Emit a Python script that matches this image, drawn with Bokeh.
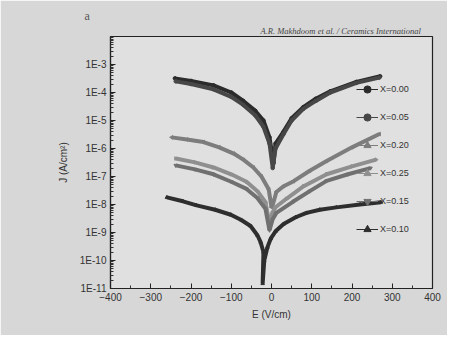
import math
from bokeh.plotting import figure
from bokeh.models import Range1d, FixedTicker, CustomJSTickFormatter, Legend, LegendItem, Title
from bokeh.embed import file_html
from bokeh.resources import INLINE

# ---- data (E in V/cm, J in A/cm^2) ----
E_000 = [-240, -200, -144, -100, -70, -40, -20, -5, 5, 10, 30, 50, 79, 110, 146, 211, 270]
J_000 = [3.2e-4, 2.6e-4, 1.8e-4, 1.0e-4, 5e-5, 2.2e-5, 1e-5, 2.5e-6, 3e-7, 1.5e-6, 4e-6, 1.2e-5, 3e-5, 6e-5, 1.1e-4, 2.4e-4, 3.8e-4]

E_005 = [-238, -200, -144, -100, -70, -40, -20, -5, 3, 10, 30, 50, 79, 110, 146, 211, 268]
J_005 = [2.5e-4, 2e-4, 1.3e-4, 7e-5, 3.6e-5, 1.5e-5, 6e-6, 1.5e-6, 2e-7, 1e-6, 3.3e-6, 1e-5, 2.6e-5, 5e-5, 1e-4, 2.2e-4, 3.4e-4]

E_020 = [-248, -210, -169, -130, -94, -70, -45, -25, -7, 0, 5, 12, 30, 55, 95, 137, 200, 268]
J_020 = [2.5e-6, 2.1e-6, 1.7e-6, 1.1e-6, 6.6e-7, 4e-7, 2.1e-7, 1e-7, 3.5e-8, 8e-9, 1.2e-8, 2.8e-8, 4.5e-8, 6.8e-8, 1.6e-7, 3.6e-7, 1.1e-6, 3.3e-6]

E_025 = [-238, -190, -144, -100, -62, -35, -15, -5, 2, 10, 37, 80, 137, 200, 260]
J_025 = [4.4e-7, 3.2e-7, 2.1e-7, 1.2e-7, 6.5e-8, 3e-8, 1.2e-8, 2e-9, 5e-9, 8e-9, 1.6e-8, 4.5e-8, 1.2e-7, 2.3e-7, 4e-7]

E_015 = [-238, -190, -144, -100, -62, -35, -15, -5, 3, 12, 55, 95, 137, 190, 246]
J_015 = [2.5e-7, 1.8e-7, 1.2e-7, 6.5e-8, 3.6e-8, 1.7e-8, 7e-9, 1.2e-9, 3e-9, 5e-9, 1.3e-8, 3e-8, 7e-8, 1.2e-7, 2e-7]

E_010 = [-260, -220, -186, -140, -101, -75, -52, -35, -27, -20, -22, -18, -10, -2, 10, 30, 60, 87, 120, 161, 220, 272]
J_010 = [1.8e-8, 1.3e-8, 9.3e-9, 6.5e-9, 4.3e-9, 2.8e-9, 1.7e-9, 8e-10, 4.5e-10, 2e-10, 1.5e-11, 1e-10, 3e-10, 6e-10, 1.1e-9, 2e-9, 3.5e-9, 5e-9, 6.5e-9, 7.9e-9, 1e-8, 1.2e-8]

x_ticks = [-400, -300, -200, -100, 0, 100, 200, 300, 400]
x_minor = [-350, -250, -150, -50, 50, 150, 250, 350]
y_ticks = [1e-11, 1e-10, 1e-9, 1e-8, 1e-7, 1e-6, 1e-5, 1e-4, 1e-3]

series = [
    ("X=0.00", E_000, J_000, "#2b2b2b", "circle", 0.0),
    ("X=0.05", E_005, J_005, "#474747", "circle", 0.0),
    ("X=0.20", E_020, J_020, "#7d7d7d", "triangle", math.pi / 2),
    ("X=0.25", E_025, J_025, "#8f8f8f", "triangle", -math.pi / 2),
    ("X=0.15", E_015, J_015, "#707070", "inverted_triangle", 0.0),
    ("X=0.10", E_010, J_010, "#2e2e2e", "triangle", 0.0),
]

p = figure(width=447, height=335, x_range=Range1d(-400, 400), y_range=Range1d(1e-11, 1e-2),
           y_axis_type="log", output_backend="svg", toolbar_location=None,
           min_border_left=110, min_border_right=15, min_border_top=36, min_border_bottom=47)
p.background_fill_color = "#e0e0e0"
p.border_fill_color = "#d7d7d7"
p.outline_line_color = "#222222"
p.outline_line_width = 1.2
p.grid.visible = False

# panel letter (outer) and the journal page header line (nearer the frame)
p.title.text = "a"
p.title.align = "left"
p.title.offset = -26
p.title.text_font = "Liberation Serif"
p.title.text_font_style = "normal"
p.title.text_font_size = "12px"
p.title.text_color = "#555555"
p.title.standoff = 0
p.add_layout(Title(text="A.R. Makhdoom et al. / Ceramics International", align="left", offset=150,
                   text_font="Liberation Serif", text_font_style="italic", text_font_size="8.5px",
                   text_color="#444444", standoff=2), "above")

p.xaxis.ticker = FixedTicker(ticks=x_ticks, minor_ticks=x_minor)
y_minor = [m * 10.0 ** k for k in range(-11, -2) for m in range(2, 10)]
p.yaxis.ticker = FixedTicker(ticks=y_ticks, minor_ticks=y_minor)
p.yaxis.formatter = CustomJSTickFormatter(code="return '1E' + Math.round(Math.log10(tick));")

for ax in (p.xaxis[0], p.yaxis[0]):
    ax.major_tick_in = 5
    ax.major_tick_out = 0
    ax.minor_tick_in = 3
    ax.minor_tick_out = 0
    ax.axis_line_color = "#222222"
    ax.axis_line_width = 1.2
    ax.major_tick_line_color = "#222222"
    ax.minor_tick_line_color = "#333333"
    ax.major_label_text_font = "Liberation Sans"
    ax.major_label_text_font_size = "10px"
    ax.major_label_text_color = "#333333"
    ax.axis_label_text_font = "Liberation Sans"
    ax.axis_label_text_font_size = "10px"
    ax.axis_label_text_font_style = "normal"
    ax.axis_label_text_color = "#333333"
    ax.major_label_standoff = 4

p.xaxis.axis_label = "E (V/cm)"
p.yaxis.axis_label = "J (A/cm²)"
p.xaxis.axis_label_standoff = 5
p.yaxis.axis_label_standoff = 8

items = []
for label, ex, jy, col, mk, ang in series:
    p.line(ex, jy, line_width=4, color=col)
    l1 = p.line(ex, jy, line_width=1, color=col)
    l2 = p.scatter(ex, jy, marker=mk, size=3.5, color=col, angle=ang)
    items.append(LegendItem(label=label, renderers=[l1, l2]))

leg = Legend(items=items, location=(246, 50), orientation="vertical")
leg.padding = 0
leg.margin = 0
leg.spacing = 10
leg.label_height = 18
leg.glyph_height = 18
leg.glyph_width = 22
leg.label_standoff = 2
leg.label_text_font = "Liberation Sans"
leg.label_text_font_size = "9px"
leg.label_text_color = "#333333"
leg.border_line_color = None
leg.background_fill_alpha = 0
p.add_layout(leg, "center")

open("out.html", "w").write(file_html(p, INLINE))
